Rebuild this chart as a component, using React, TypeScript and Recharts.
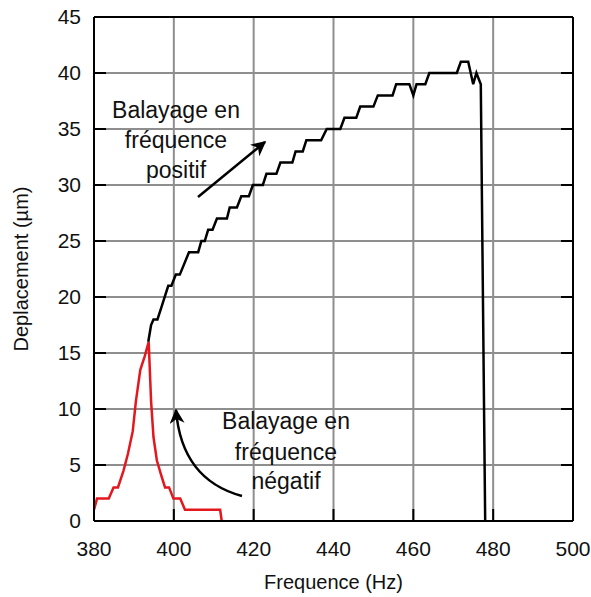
import React from "react";
import {
  LineChart,
  Line,
  XAxis,
  YAxis,
  CartesianGrid,
  Label,
} from "recharts";

// balayage en frequence positif (montee)
const freqUp = [
  393.6, 394.3, 394.9, 395.9, 396.9, 398.6, 399.4, 400.5, 401.5, 403.8, 406.1,
  406.9, 407.75, 408.6, 409.7, 410.8, 413.3, 414, 415.8, 416.9, 418.8, 419.8,
  422.3, 423.2, 425.7, 426.7, 429.7, 430.5, 432.3, 433.2, 436.9, 438.3, 441.7,
  442.75, 445.7, 446.7, 450, 451.1, 454.8, 455.7, 459, 460, 460.8, 463, 464,
  470.9, 471.9, 473.75, 475, 475.8, 476.9, 478,
];
const deplUp = [
  16, 17.5, 18, 18, 19.1, 21, 21, 22, 22, 24, 24, 25, 25, 26, 26, 27, 27, 28,
  28, 29, 29, 30, 30, 31, 31, 32, 32, 33, 33, 34, 34, 35, 35, 36, 36, 37, 37,
  38, 38, 39, 39, 38, 39, 39, 40, 40, 41, 41, 39, 40, 39, 0,
];

// balayage en frequence negatif (descente)
const freqDown = [
  380, 380.75, 383.7, 384.9, 386, 387.4, 388.5, 389.7, 390.5, 391.6, 392.7,
  393.7, 394.3, 394.9, 395.75, 397, 397.8, 398.8, 399.9, 401.6, 402.8, 411.6,
  412,
];
const deplDown = [
  1, 2, 2, 3, 3, 4.5, 6, 8, 10.7, 13.5, 14.7, 16, 10.7, 7.5, 5.4, 3.9, 3, 3, 2,
  2, 1, 1, 0,
];

const xTicks = [380, 400, 420, 440, 460, 480, 500];
const yTicks = [0, 5, 10, 15, 20, 25, 30, 35, 40, 45];

const upData = freqUp.map((f, i) => ({ f, d: deplUp[i] }));
const downData = freqDown.map((f, i) => ({ f, d: deplDown[i] }));

const FONT = "'Liberation Sans', Arial, sans-serif";
const TICK_LEN = 12;

// ticks tournes vers l'interieur, avec ou sans texte
function BottomTick({ x, y, payload }: any) {
  return (
    <g>
      <line x1={x} y1={y} x2={x} y2={y - TICK_LEN} stroke="#000" strokeWidth={2} />
      <text
        x={x}
        y={y + 35}
        textAnchor="middle"
        fontSize={21}
        fontFamily={FONT}
        fill="#111"
      >
        {payload.value}
      </text>
    </g>
  );
}

function TopTick({ x, y }: any) {
  return <line x1={x} y1={y} x2={x} y2={y + TICK_LEN} stroke="#000" strokeWidth={2} />;
}

function LeftTick({ x, y, payload }: any) {
  return (
    <g>
      <line x1={x} y1={y} x2={x + TICK_LEN} y2={y} stroke="#000" strokeWidth={2} />
      <text
        x={x - 13}
        y={y + 7}
        textAnchor="end"
        fontSize={21}
        fontFamily={FONT}
        fill="#111"
      >
        {payload.value}
      </text>
    </g>
  );
}

function RightTick({ x, y }: any) {
  return <line x1={x} y1={y} x2={x - TICK_LEN} y2={y} stroke="#000" strokeWidth={2} />;
}

export default function App() {
  return (
    <div
      style={{
        position: "absolute",
        left: 0,
        top: 0,
        width: 591,
        height: 597,
        background: "#fff",
      }}
    >
      <LineChart
        width={591}
        height={597}
        margin={{ top: 15, right: 16, left: 34, bottom: 6 }}
      >
        <CartesianGrid xAxisId="b" yAxisId="l" stroke="#8e8e8e" strokeWidth={2} />
        <XAxis
          xAxisId="b"
          type="number"
          dataKey="f"
          domain={[380, 500]}
          ticks={xTicks}
          allowDataOverflow
          height={70}
          stroke="#000"
          strokeWidth={2}
          tickLine={false}
          tickSize={0}
          tickMargin={0}
          tick={<BottomTick />}
        >
          <Label
            value="Frequence (Hz)"
            position="insideBottom"
            offset={2}
            style={{ fontSize: 20, fill: "#111", fontFamily: FONT }}
          />
        </XAxis>
        <XAxis
          xAxisId="t"
          orientation="top"
          type="number"
          domain={[380, 500]}
          ticks={xTicks}
          allowDataOverflow
          height={2}
          stroke="#000"
          strokeWidth={2}
          tickLine={false}
          tickSize={0}
          tickMargin={0}
          tick={<TopTick />}
        />
        <YAxis
          yAxisId="l"
          type="number"
          domain={[0, 45]}
          ticks={yTicks}
          allowDataOverflow
          width={60}
          stroke="#000"
          strokeWidth={2}
          tickLine={false}
          tickSize={0}
          tickMargin={0}
          tick={<LeftTick />}
        >
          <Label
            value="Deplacement (µm)"
            angle={-90}
            position="insideLeft"
            offset={-13}
            style={{
              fontSize: 20,
              fill: "#111",
              fontFamily: FONT,
              textAnchor: "middle",
            }}
          />
        </YAxis>
        <YAxis
          yAxisId="r"
          orientation="right"
          type="number"
          domain={[0, 45]}
          ticks={yTicks}
          allowDataOverflow
          width={2}
          stroke="#000"
          strokeWidth={2}
          tickLine={false}
          tickSize={0}
          tickMargin={0}
          tick={<RightTick />}
        />
        <Line
          xAxisId="b"
          yAxisId="l"
          data={downData}
          dataKey="d"
          type="linear"
          stroke="#e3171e"
          strokeWidth={2.5}
          dot={false}
          isAnimationActive={false}
        />
        <Line
          xAxisId="b"
          yAxisId="l"
          data={upData}
          dataKey="d"
          type="linear"
          stroke="#000"
          strokeWidth={2.5}
          dot={false}
          isAnimationActive={false}
        />
      </LineChart>

      <svg
        width={591}
        height={597}
        style={{ position: "absolute", left: 0, top: 0, pointerEvents: "none" }}
      >
        <defs>
          <marker
            id="head"
            viewBox="0 0 10 10"
            refX="9"
            refY="5"
            markerWidth="6"
            markerHeight="6"
            orient="auto"
          >
            <path d="M0,0 L10,5 L0,10 L3,5 z" fill="#000" />
          </marker>
        </defs>
        <g fontFamily={FONT} fontSize={23} fill="#111" textAnchor="middle">
          <text x={176} y={118}>Balayage en</text>
          <text x={176} y={148}>fréquence</text>
          <text x={176} y={178}>positif</text>
          <text x={286} y={429}>Balayage en</text>
          <text x={286} y={460}>fréquence</text>
          <text x={286} y={489}>négatif</text>
        </g>
        <line
          x1={198}
          y1={197}
          x2={265}
          y2={142}
          stroke="#000"
          strokeWidth={2.5}
          markerEnd="url(#head)"
        />
        <path
          d="M242,496 C205,486 180,460 176,410"
          fill="none"
          stroke="#000"
          strokeWidth={2.5}
          markerEnd="url(#head)"
        />
      </svg>
    </div>
  );
}
